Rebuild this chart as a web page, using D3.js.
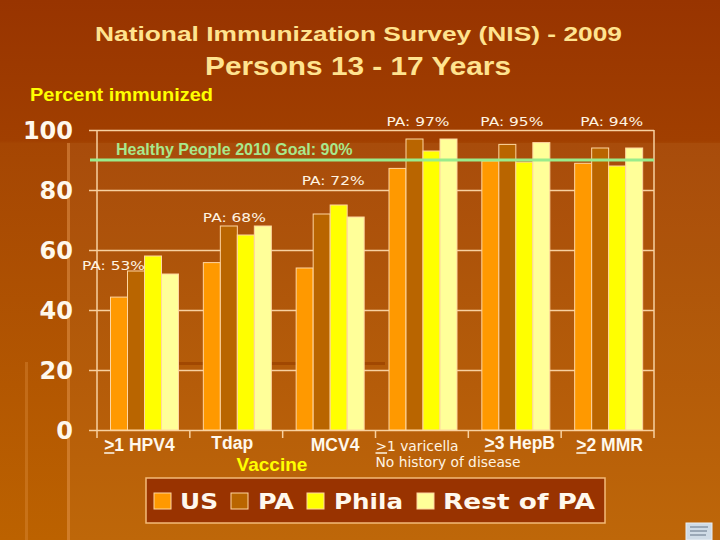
<!DOCTYPE html>
<html><head><meta charset="utf-8">
<script src="https://cdn.jsdelivr.net/npm/d3@7"></script>
<style>html,body{margin:0;padding:0;background:#a84c00;overflow:hidden}svg{display:block}</style>
</head><body>
<script>
// ---------- data ----------
const categories = [">1 HPV4", "Tdap", "MCV4", ">1 varicella", ">3 HepB", ">2 MMR"];
const series = ["US", "PA", "Phila", "Rest of PA"];
const usValues    = [44.3, 55.8, 54, 87.2, 89.7, 88.9];
const paValues    = [53, 68, 72, 97, 95.2, 94];
const philaValues = [58, 65, 75, 93, 89.3, 88];
const restValues  = [52, 68, 71, 97, 95.8, 94];
const paLabels = ["PA: 53%", "PA: 68%", "PA: 72%", "PA: 97%", "PA: 95%", "PA: 94%"];
const yTicks = [0, 20, 40, 60, 80, 100];
const goalValue = 90;
const goalLabel = "Healthy People 2010 Goal: 90%";

// ---------- layout (not data) ----------
const W = 720, H = 540;
const plot = {left: 97, right: 654, top: 130, bottom: 430, gridLeft: 89};
const colors = {"US": "#ff9900", "PA": "#b96500", "Phila": "#ffff00", "Rest of PA": "#ffff99"};
const paLabelPos = [[-15, 270], [13, 222], [19, 185], [11, 126], [12, 126], [19, 126]]; // dx from band start, baseline y
const catLabelDx = [-4, -4, 6, null, 5, 2];

const svg = d3.select("body").append("svg").attr("width", W).attr("height", H);
const defs = svg.append("defs");
const bg = defs.append("linearGradient").attr("id", "bg").attr("x1", 0).attr("y1", 0).attr("x2", 0).attr("y2", 1);
bg.append("stop").attr("offset", "0%").attr("stop-color", "#983400");
bg.append("stop").attr("offset", "26%").attr("stop-color", "#a13f00");
bg.append("stop").attr("offset", "26.6%").attr("stop-color", "#a54603");
bg.append("stop").attr("offset", "100%").attr("stop-color", "#bc6200");
svg.append("rect").attr("width", W).attr("height", H).attr("fill", "url(#bg)");
// slide decorations
svg.append("rect").attr("x", 67).attr("y", 143).attr("width", W - 67).attr("height", H - 143)
  .attr("fill", "#ffffff").attr("opacity", 0.035);
svg.append("rect").attr("x", 67).attr("y", 143).attr("width", 3).attr("height", H - 143)
  .attr("fill", "#e89a50").attr("opacity", 0.45);
svg.append("rect").attr("x", 25).attr("y", 362).attr("width", 3).attr("height", H - 362)
  .attr("fill", "#e89a50").attr("opacity", 0.3);
svg.append("rect").attr("x", 178).attr("y", 362).attr("width", 207).attr("height", 3)
  .attr("fill", "#9c4400").attr("opacity", 0.8);

// ---------- titles ----------
svg.append("text").attr("x", 95).attr("y", 41).attr("textLength", 527).attr("lengthAdjust", "spacingAndGlyphs")
  .attr("font-family", "Liberation Sans, Arial, sans-serif").attr("font-weight", "bold").attr("font-size", 21)
  .attr("fill", "#ffe38f").text("National Immunization Survey (NIS) - 2009");
svg.append("text").attr("x", 205).attr("y", 75).attr("textLength", 306).attr("lengthAdjust", "spacingAndGlyphs")
  .attr("font-family", "Liberation Sans, Arial, sans-serif").attr("font-weight", "bold").attr("font-size", 25)
  .attr("fill", "#ffe38f").text("Persons 13 - 17 Years");
svg.append("text").attr("x", 30).attr("y", 101).attr("textLength", 183).attr("lengthAdjust", "spacingAndGlyphs")
  .attr("font-family", "Liberation Sans Narrow, Liberation Sans, Arial, sans-serif").attr("font-weight", "bold").attr("font-size", 19)
  .attr("fill", "#ffff00").text("Percent immunized");

// ---------- scales ----------
const y = d3.scaleLinear().domain([0, 100]).range([plot.bottom, plot.top]);
const x = d3.scaleBand().domain(categories).range([plot.left, plot.right]).padding(0);
const x1 = d3.scaleBand().domain(series).range([13.5, 81.5]).padding(0);
const valuesBySeries = {"US": usValues, "PA": paValues, "Phila": philaValues, "Rest of PA": restValues};
const axisColor = "#f7d0a0";

// gridlines + y labels via axis
const yAxis = d3.axisLeft(y).tickValues(yTicks).tickSize(plot.right - plot.gridLeft).tickPadding(16).tickFormat(d3.format("d"));
const ga = svg.append("g").attr("transform", `translate(${plot.right},0)`).call(yAxis);
ga.select(".domain").remove();
ga.selectAll(".tick line").attr("stroke", axisColor).attr("stroke-width", 1.5);
ga.selectAll(".tick text").attr("fill", "#fff8ec").attr("font-family", "DejaVu Sans, Verdana, sans-serif")
  .attr("font-weight", "bold").attr("font-size", 24).attr("dy", "0.36em");

// axis frame
svg.append("line").attr("x1", plot.left).attr("x2", plot.left).attr("y1", plot.top).attr("y2", plot.bottom + 8)
  .attr("stroke", axisColor).attr("stroke-width", 1.5);
svg.append("line").attr("x1", plot.right).attr("x2", plot.right).attr("y1", plot.top).attr("y2", plot.bottom + 8)
  .attr("stroke", axisColor).attr("stroke-width", 1.5);
svg.selectAll(".cattick").data(categories.slice(0, -1)).join("line")
  .attr("x1", d => x(d) + x.bandwidth()).attr("x2", d => x(d) + x.bandwidth())
  .attr("y1", plot.bottom).attr("y2", plot.bottom + 8).attr("stroke", axisColor).attr("stroke-width", 1.5);

// ---------- bars ----------
const groups = svg.selectAll(".grp").data(categories).join("g").attr("transform", d => `translate(${x(d)},0)`);
groups.selectAll("rect").data((c, i) => series.map(s => ({s, v: valuesBySeries[s][i]}))).join("rect")
  .attr("x", d => x1(d.s)).attr("width", x1.bandwidth())
  .attr("y", d => y(d.v)).attr("height", d => y(0) - y(d.v))
  .attr("fill", d => colors[d.s]).attr("stroke", "#ffd6a0").attr("stroke-width", 1);

// ---------- goal line ----------
svg.append("line").attr("x1", 90).attr("x2", plot.right).attr("y1", y(goalValue)).attr("y2", y(goalValue))
  .attr("stroke", "#99ec8c").attr("stroke-width", 3);
svg.append("text").attr("x", 116).attr("y", 155).attr("font-family", "Liberation Sans, Arial, sans-serif")
  .attr("font-weight", "bold").attr("font-size", 16).attr("fill", "#a8e88c").text(goalLabel);

// ---------- PA labels ----------
svg.selectAll(".palab").data(categories).join("text")
  .attr("x", (d, i) => x(d) + paLabelPos[i][0]).attr("y", (d, i) => paLabelPos[i][1])
  .attr("textLength", 63).attr("lengthAdjust", "spacingAndGlyphs")
  .attr("font-family", "DejaVu Sans, Verdana, sans-serif").attr("font-size", 13)
  .attr("fill", "#fff4e2").text((d, i) => paLabels[i]);

// ---------- category labels ----------
function underlineFirst(t) {
  const node = t.node();
  if (!node.textContent.startsWith(">")) return;
  const bb = node.getBBox();
  const x0 = node.getStartPositionOfChar(0).x;
  const w = node.getSubStringLength(0, 1);
  const yb = node.getStartPositionOfChar(0).y;
  svg.append("line").attr("x1", x0).attr("x2", x0 + w).attr("y1", yb + 2).attr("y2", yb + 2)
    .attr("stroke", t.attr("fill")).attr("stroke-width", 1.5);
}
categories.forEach((c, i) => {
  let t;
  if (i === 3) {
    t = svg.append("text").attr("x", x(c)).attr("y", 451).attr("textLength", 83).attr("lengthAdjust", "spacingAndGlyphs")
      .attr("font-family", "DejaVu Sans, Verdana, sans-serif").attr("font-size", 13.5).attr("fill", "#fff4e2").text(c);
    svg.append("text").attr("x", x(c)).attr("y", 467).attr("textLength", 145).attr("lengthAdjust", "spacingAndGlyphs")
      .attr("font-family", "DejaVu Sans, Verdana, sans-serif").attr("font-size", 13.5).attr("fill", "#fff4e2").text("No history of disease");
  } else {
    const yy = (i === 1 || i === 4) ? 449 : 451;
    t = svg.append("text").attr("x", x(c) + x.bandwidth() / 2 + catLabelDx[i]).attr("y", yy)
      .attr("text-anchor", "middle").attr("font-family", "Liberation Sans, Arial, sans-serif")
      .attr("font-weight", "bold").attr("font-size", 17.5).attr("fill", "#fff8ec").text(c);
  }
  underlineFirst(t);
});
svg.append("text").attr("x", 272).attr("y", 471).attr("text-anchor", "middle")
  .attr("font-family", "Liberation Sans, Arial, sans-serif").attr("font-weight", "bold").attr("font-size", 19)
  .attr("fill", "#ffff00").text("Vaccine");

// ---------- legend ----------
svg.append("rect").attr("x", 146).attr("y", 478).attr("width", 459).attr("height", 45)
  .attr("fill", "#993300").attr("stroke", "#f3bb78").attr("stroke-width", 1.5);
const legendSwatchX = [154, 231, 307, 417];
const legendTextX = [180, 258, 334, 443];
const legendTextW = [38, 36, 69, 152];
series.forEach((s, i) => {
  svg.append("rect").attr("x", legendSwatchX[i]).attr("y", 493).attr("width", 17).attr("height", 16)
    .attr("fill", colors[s]).attr("stroke", "#ffd6a0").attr("stroke-width", 1);
  svg.append("text").attr("x", legendTextX[i]).attr("y", 509).attr("textLength", legendTextW[i]).attr("lengthAdjust", "spacingAndGlyphs")
    .attr("font-family", "DejaVu Sans, Verdana, sans-serif").attr("font-weight", "bold").attr("font-size", 22)
    .attr("fill", "#fff8ec").text(s);
});

// small corner badge
svg.append("rect").attr("x", 686).attr("y", 523).attr("width", 26).attr("height", 17).attr("fill", "#cfdbe6").attr("stroke", "#e8eef4");
[527, 531, 535].forEach((yy, k) => svg.append("line").attr("x1", 690).attr("x2", 708 - k).attr("y1", yy).attr("y2", yy)
  .attr("stroke", "#4a5a70").attr("stroke-width", 0.8));
</script>
</body></html>
